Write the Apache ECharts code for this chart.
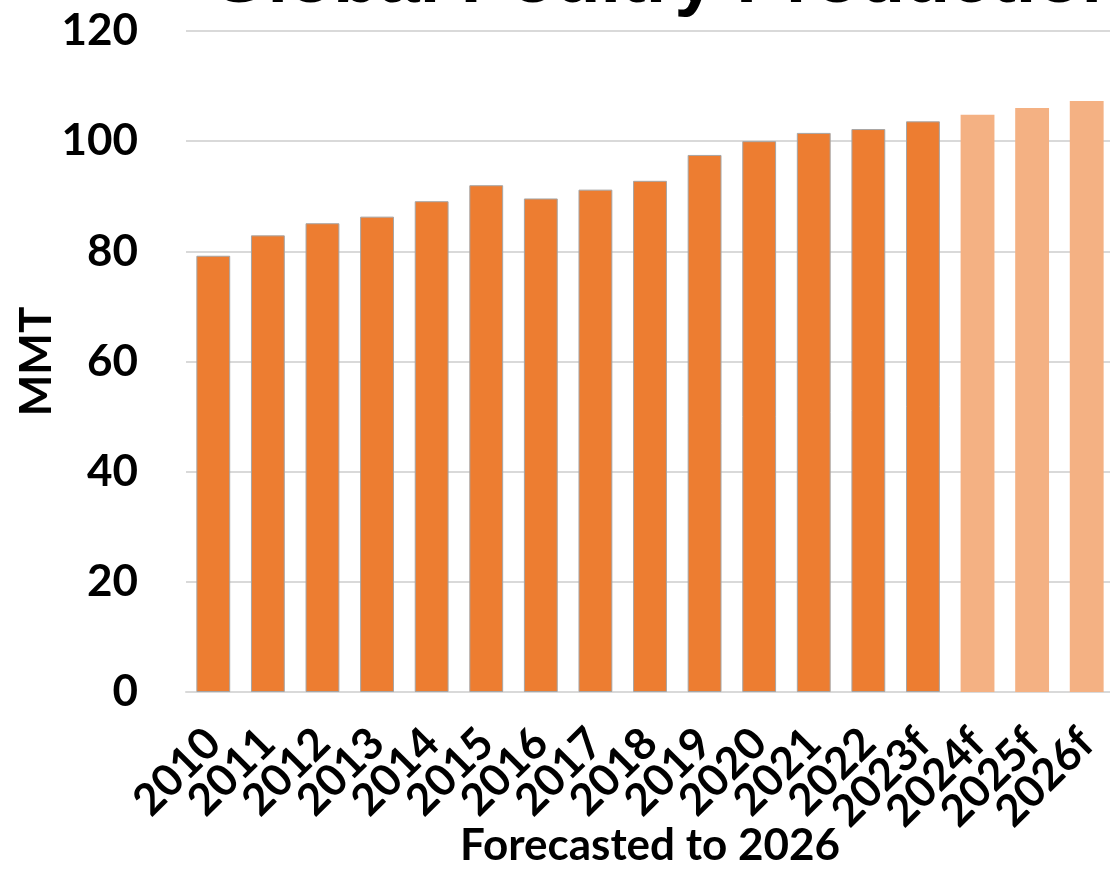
<!DOCTYPE html>
<html>
<head>
<meta charset="utf-8">
<style>
  html, body { margin: 0; padding: 0; background: #ffffff; }
  #chart { width: 1110px; height: 869px; }
</style>
<script src="https://cdn.jsdelivr.net/npm/echarts@6/dist/echarts.min.js"></script>
</head>
<body>
<div id="chart"></div>
<script>
// Global poultry production, million metric tons (MMT)
const years = ['2010', '2011', '2012', '2013', '2014', '2015', '2016', '2017', '2018',
               '2019', '2020', '2021', '2022', '2023f', '2024f', '2025f', '2026f'];
const production = [79.2, 82.9, 85.1, 86.3, 89.1, 92.0, 89.6, 91.2, 92.8,
                    97.5, 100.0, 101.5, 102.2, 103.6, 104.8, 106.0, 107.3];
// Outlook years drawn in the lighter shade
const outlookYears = ['2024f', '2025f', '2026f'];
const yTicks = [0, 20, 40, 60, 80, 100, 120];

const labelFont = 'Lato, "Open Sans", sans-serif';

const barData = production.map((v, i) => {
  const outlook = outlookYears.includes(years[i]);
  return {
    value: v,
    itemStyle: outlook
      ? { color: '#F4B183', borderColor: '#F4B183', borderWidth: 0 }
      : { color: '#ED7D31', borderColor: '#A5A5A5', borderWidth: 1 }
  };
});

const chart = echarts.init(document.getElementById('chart'), null, { renderer: 'canvas' });
chart.setOption({
  animation: false,
  backgroundColor: '#ffffff',
  title: {
    text: 'Global Poultry Production',
    left: 205,
    top: -60,
    textStyle: {
      fontFamily: '"Liberation Sans", Arial, sans-serif',
      fontWeight: 'bold',
      fontSize: 74,
      color: '#000000'
    }
  },
  grid: {
    left: 186, right: -4, top: 31, bottom: 177,
    containLabel: false,
    outerBoundsMode: 'none'
  },
  xAxis: {
    type: 'category',
    data: years,
    name: 'Forecasted to 2026',
    nameLocation: 'middle',
    nameGap: 132,
    nameMoveOverlap: false,
    nameTextStyle: { fontFamily: labelFont, fontWeight: 'bold', fontSize: 44, color: '#000' },
    axisLine: { lineStyle: { color: '#D9D9D9', width: 2 } },
    axisTick: { show: false },
    axisLabel: {
      rotate: 45,
      margin: 44,
      interval: 0,
      fontFamily: labelFont,
      fontWeight: 'bold',
      fontSize: 44,
      color: '#000'
    }
  },
  yAxis: {
    type: 'value',
    min: yTicks[0],
    max: yTicks[yTicks.length - 1],
    interval: yTicks[1] - yTicks[0],
    name: 'MMT',
    nameLocation: 'middle',
    nameGap: 127,
    nameMoveOverlap: false,
    nameRotate: 90,
    nameTextStyle: { fontFamily: labelFont, fontWeight: 'bold', fontSize: 44, color: '#000' },
    axisLine: { show: false },
    axisTick: { show: false },
    axisLabel: {
      margin: 48,
      fontFamily: labelFont,
      fontWeight: 'bold',
      fontSize: 44,
      color: '#000'
    },
    splitLine: { lineStyle: { color: '#D9D9D9', width: 2 } }
  },
  series: [{
    type: 'bar',
    data: barData,
    barCategoryGap: '38%'
  }]
});
</script>
</body>
</html>
